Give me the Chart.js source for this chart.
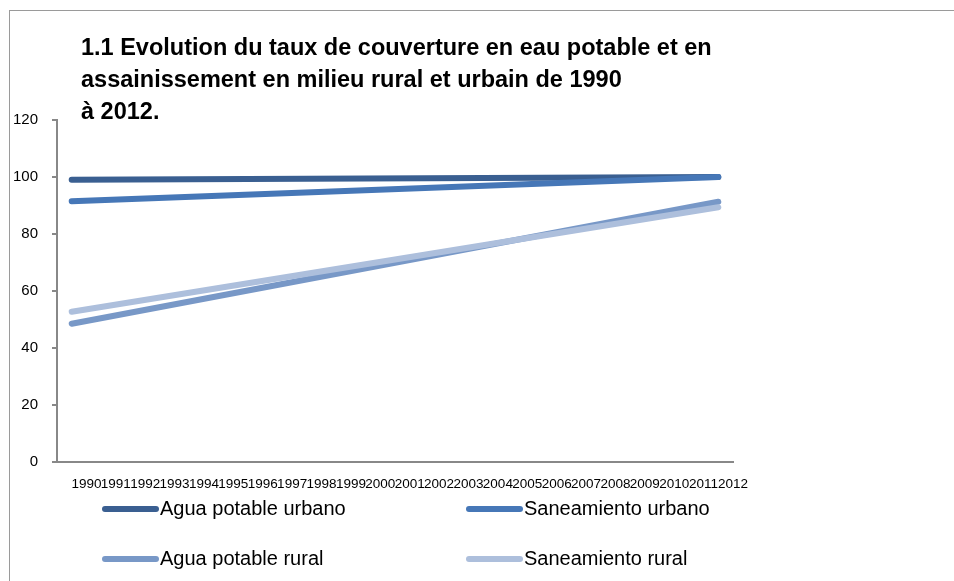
<!DOCTYPE html>
<html>
<head>
<meta charset="utf-8">
<script src="https://cdn.jsdelivr.net/npm/chart.js@4.4.0/dist/chart.umd.min.js"></script>
<style>
  html, body { margin: 0; padding: 0; background: #fff; }
  #wrap { position: relative; width: 954px; height: 581px; overflow: hidden; }
  #frame { position: absolute; left: 9px; top: 10px; width: 1000px; height: 1000px; border: 1px solid #9a9a9a; }
  #chart { position: absolute; left: 0; top: 0; }
  #title { position: absolute; left: 81px; top: 31px; font: bold 23.5px "Liberation Sans", Arial, sans-serif; line-height: 32px; color: #000; }
  .leg { position: absolute; font: 20px "Liberation Sans", Arial, sans-serif; color: #000; white-space: nowrap; }
  .leg span { display: inline-block; vertical-align: middle; }
  .leg .mark { width: 57px; height: 6px; border-radius: 3px; margin-right: 1px; }
</style>
</head>
<body>
<div id="wrap">
  <div id="frame"></div>
  <canvas id="chart" width="954" height="581"></canvas>
  <div id="title">1.1 Evolution du taux de couverture en eau potable et en<br>assainissement en milieu rural et urbain de 1990<br>à 2012.</div>
</div>
<script>
const years = [
  "1990", "1991", "1992", "1993", "1994", "1995", "1996", "1997",
  "1998", "1999", "2000", "2001", "2002", "2003", "2004", "2005",
  "2006", "2007", "2008", "2009", "2010", "2011", "2012",
];

// only the two end years carry values, the line is drawn across the gap
const pointYears = ["1990", "2012"];

const aguaUrbano = [99, 100];
const saneamientoUrbano = [91.5, 100];
const aguaRural = [48.5, 91.3];
const saneamientoRural = [52.7, 89.4];

const seriesNames = [
  "Agua potable urbano",
  "Saneamiento urbano",
  "Agua potable rural",
  "Saneamiento rural",
];
const seriesValues = [aguaUrbano, saneamientoUrbano, aguaRural, saneamientoRural];

const yTicks = [0, 20, 40, 60, 80, 100, 120];

const COLORS = ["#3a5f91", "#4677b7", "#7898c7", "#adbfdc"];

function toPoints(values) {
  return pointYears.map(function (yr, i) {
    return { x: yr, y: values[i] };
  });
}

var datasets = [];
for (let i = 0; i < seriesNames.length; i++) {
  datasets.push({
    label: seriesNames[i],
    data: toPoints(seriesValues[i]),
    borderColor: COLORS[i],
    backgroundColor: COLORS[i],
    borderWidth: 6,
    borderCapStyle: "round",
    pointRadius: 0,
    pointHoverRadius: 0,
    tension: 0,
    spanGaps: true,
  });
}

// draw the lower series first so the darker ones sit on top
datasets.reverse();

const ctx = document.getElementById("chart");

var config = {
  type: "line",
  data: { labels: years, datasets: datasets },
  options: {
    responsive: false,
    animation: false,
    layout: { padding: { top: 120, right: 221, bottom: 79, left: 0 } },
    plugins: {
      legend: { display: false },
      title: { display: false },
      tooltip: { enabled: false },
    },
    scales: {
      x: {
        type: "category",
        offset: true,
        grid: { display: false, drawTicks: false },
        border: { display: true, color: "#888", width: 2 },
        ticks: {
          autoSkip: false,
          maxRotation: 0,
          minRotation: 0,
          padding: 14,
          labelOffset: 14.7,
          color: "#000",
          font: { family: "Liberation Sans", size: 13.5 },
        },
        afterFit: function (s) { s.height = 40; },
      },
      y: {
        min: 0,
        max: 120,
        afterBuildTicks: function (s) {
          s.ticks = yTicks.map(function (v) { return { value: v }; });
        },
        grid: {
          display: true,
          drawOnChartArea: false,
          drawTicks: true,
          tickLength: 5,
          color: "#888",
          lineWidth: 2,
        },
        border: { display: true, color: "#888", width: 2 },
        ticks: {
          padding: 14,
          color: "#000",
          font: { family: "Liberation Sans", size: 15 },
        },
        afterFit: function (s) { s.width = 57; },
      },
    },
  },
};

new Chart(ctx, config);

// legend, two columns like the original
const legPos = [
  [102, 508],
  [466, 508],
  [102, 558],
  [466, 558],
];
const wrap = document.getElementById("wrap");
for (let i = 0; i < seriesNames.length; i++) {
  var d = document.createElement("div");
  d.className = "leg";
  d.style.left = legPos[i][0] + "px";
  d.style.top = legPos[i][1] - 12 + "px";
  d.innerHTML = '<span class="mark" style="background:' + COLORS[i] + '"></span><span>' + seriesNames[i] + "</span>";
  wrap.appendChild(d);
}
</script>
</body>
</html>
